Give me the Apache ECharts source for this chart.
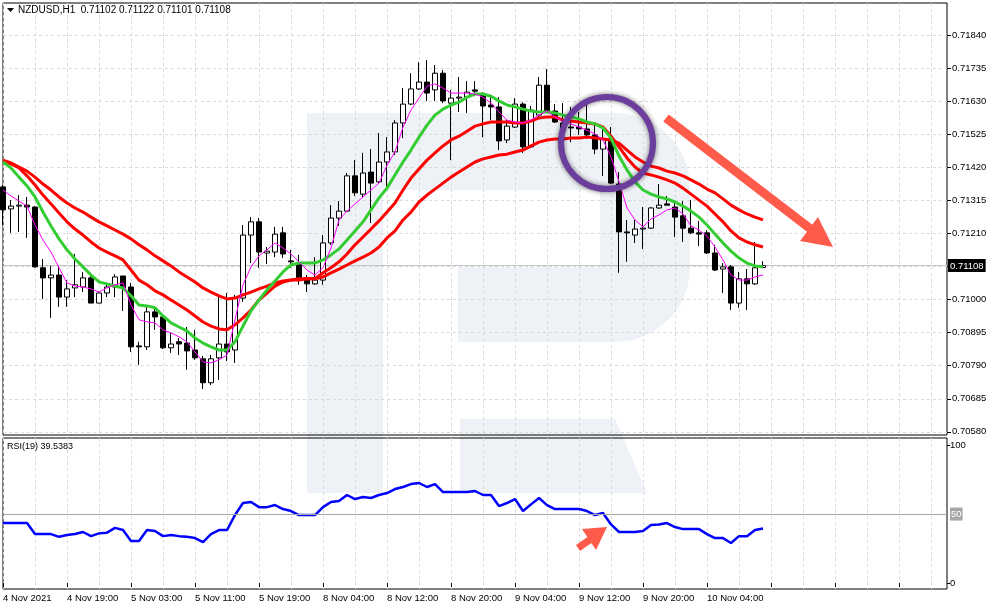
<!DOCTYPE html>
<html>
<head>
<meta charset="utf-8">
<script src="https://cdn.jsdelivr.net/npm/echarts@6/dist/echarts.min.js"></script>
<style>
  html, body { margin: 0; padding: 0; background: #fff; }
  #chart { width: 994px; height: 610px; }
</style>
</head>
<body>
<div id="chart"></div>
<script>
// NZDUSD H1, 4 Nov 2021 11:00 .. 10 Nov 2021 (96 bars)
var timeLabels = ['4 Nov 2021', '4 Nov 19:00', '5 Nov 03:00', '5 Nov 11:00', '5 Nov 19:00', '8 Nov 04:00',
  '8 Nov 12:00', '8 Nov 20:00', '9 Nov 04:00', '9 Nov 12:00', '9 Nov 20:00', '10 Nov 04:00'];

var priceTicks = [0.71840, 0.71735, 0.71630, 0.71525, 0.71420, 0.71315, 0.71210, 0.71105,
  0.71000, 0.70895, 0.70790, 0.70685, 0.70580];
var priceLabels = [0.71840, 0.71735, 0.71630, 0.71525, 0.71420, 0.71315, 0.71210,
  0.71000, 0.70895, 0.70790, 0.70685, 0.70580];
var rsiLabels = [0, 50, 100];
var lastPrice = 0.71108;

var open = [0.71358, 0.71288, 0.71297, 0.71300, 0.71294, 0.71101, 0.71069, 0.71078, 0.71008, 0.71037,
  0.71040, 0.71069, 0.70989, 0.71021, 0.71040, 0.71075, 0.71040, 0.70853, 0.70850, 0.70961,
  0.70945, 0.70847, 0.70866, 0.70862, 0.70840, 0.70812, 0.70736, 0.70815, 0.70859, 0.70840,
  0.71005, 0.71205, 0.71247, 0.71148, 0.71151, 0.71212, 0.71123, 0.71116, 0.71069, 0.71050,
  0.71062, 0.71180, 0.71259, 0.71281, 0.71393, 0.71335, 0.71405, 0.71374, 0.71437, 0.71469,
  0.71561, 0.71621, 0.71669, 0.71691, 0.71666, 0.71719, 0.71624, 0.71640, 0.71643, 0.71666,
  0.71650, 0.71618, 0.71612, 0.71507, 0.71548, 0.71621, 0.71485, 0.71586, 0.71681, 0.71599,
  0.71561, 0.71548, 0.71548, 0.71542, 0.71523, 0.71478, 0.71510, 0.71367, 0.71215, 0.71205,
  0.71224, 0.71227, 0.71291, 0.71304, 0.71294, 0.71266, 0.71227, 0.71212, 0.71212, 0.71148,
  0.71097, 0.71104, 0.70989, 0.71066, 0.71050, 0.71102];

var close = [0.71285, 0.71297, 0.71300, 0.71294, 0.71104, 0.71069, 0.71078, 0.71008, 0.71034, 0.71047,
  0.71069, 0.70989, 0.71021, 0.71040, 0.71072, 0.71037, 0.70850, 0.70850, 0.70961, 0.70945,
  0.70847, 0.70859, 0.70859, 0.70837, 0.70815, 0.70736, 0.70812, 0.70859, 0.70834, 0.71005,
  0.71205, 0.71247, 0.71151, 0.71154, 0.71208, 0.71145, 0.71120, 0.71069, 0.71050, 0.71062,
  0.71180, 0.71259, 0.71281, 0.71393, 0.71339, 0.71402, 0.71370, 0.71437, 0.71469, 0.71561,
  0.71621, 0.71669, 0.71691, 0.71656, 0.71719, 0.71631, 0.71640, 0.71643, 0.71659, 0.71662,
  0.71615, 0.71612, 0.71504, 0.71551, 0.71621, 0.71485, 0.71602, 0.71681, 0.71599, 0.71564,
  0.71545, 0.71545, 0.71542, 0.71523, 0.71478, 0.71510, 0.71370, 0.71215, 0.71212, 0.71224,
  0.71227, 0.71291, 0.71300, 0.71300, 0.71262, 0.71227, 0.71212, 0.71208, 0.71148, 0.71094,
  0.71104, 0.70989, 0.71066, 0.71050, 0.71101, 0.71108];

var high = [0.71364, 0.71316, 0.71332, 0.71326, 0.71297, 0.71129, 0.71107, 0.71107, 0.71062, 0.71145,
  0.71088, 0.71085, 0.71024, 0.71053, 0.71081, 0.71075, 0.71053, 0.70866, 0.70977, 0.70977,
  0.70948, 0.70894, 0.70878, 0.70913, 0.70904, 0.70821, 0.70824, 0.71015, 0.71021, 0.71015,
  0.71237, 0.71262, 0.71259, 0.71167, 0.71231, 0.71231, 0.71158, 0.71142, 0.71078, 0.71135,
  0.71205, 0.71300, 0.71313, 0.71402, 0.71443, 0.71466, 0.71478, 0.71529, 0.71516, 0.71570,
  0.71672, 0.71719, 0.71754, 0.71761, 0.71745, 0.71729, 0.71666, 0.71707, 0.71694, 0.71694,
  0.71659, 0.71650, 0.71643, 0.71570, 0.71640, 0.71627, 0.71615, 0.71707, 0.71732, 0.71621,
  0.71624, 0.71612, 0.71596, 0.71624, 0.71564, 0.71548, 0.71548, 0.71405, 0.71253, 0.71253,
  0.71294, 0.71294, 0.71367, 0.71329, 0.71307, 0.71313, 0.71316, 0.71250, 0.71221, 0.71174,
  0.71116, 0.71110, 0.71088, 0.71097, 0.71183, 0.71122];

var low = [0.71237, 0.71212, 0.71215, 0.71196, 0.71101, 0.71002, 0.70942, 0.70977, 0.70977, 0.71008,
  0.71024, 0.70989, 0.70989, 0.71008, 0.71008, 0.70964, 0.70834, 0.70793, 0.70840, 0.70904,
  0.70843, 0.70831, 0.70824, 0.70777, 0.70809, 0.70716, 0.70729, 0.70745, 0.70805, 0.70799,
  0.70993, 0.71116, 0.71101, 0.71113, 0.71135, 0.71132, 0.71101, 0.71047, 0.71024, 0.71047,
  0.71047, 0.71174, 0.71234, 0.71278, 0.71329, 0.71323, 0.71243, 0.71370, 0.71348, 0.71459,
  0.71513, 0.71618, 0.71666, 0.71631, 0.71631, 0.71624, 0.71443, 0.71596, 0.71593, 0.71646,
  0.71516, 0.71570, 0.71475, 0.71497, 0.71545, 0.71466, 0.71481, 0.71580, 0.71596, 0.71561,
  0.71500, 0.71500, 0.71523, 0.71510, 0.71462, 0.71393, 0.71367, 0.71085, 0.71120, 0.71180,
  0.71161, 0.71224, 0.71288, 0.71300, 0.71199, 0.71183, 0.71208, 0.71170, 0.71145, 0.71091,
  0.71021, 0.70967, 0.70974, 0.70967, 0.71047, 0.71101];

// moving averages
var maSlow = [0.71443, 0.71434, 0.71421, 0.71408, 0.71389, 0.71367, 0.71348, 0.71326, 0.71307, 0.71291,
  0.71278, 0.71262, 0.71247, 0.71234, 0.71221, 0.71208, 0.71193, 0.71174, 0.71158, 0.71139,
  0.71123, 0.71107, 0.71088, 0.71072, 0.71056, 0.71037, 0.71024, 0.71012, 0.71002, 0.71005,
  0.71015, 0.71024, 0.71034, 0.71043, 0.71053, 0.71059, 0.71062, 0.71066, 0.71066, 0.71066,
  0.71072, 0.71085, 0.71097, 0.71110, 0.71123, 0.71135, 0.71148, 0.71167, 0.71196, 0.71218,
  0.71253, 0.71278, 0.71310, 0.71332, 0.71351, 0.71370, 0.71389, 0.71405, 0.71421, 0.71437,
  0.71447, 0.71453, 0.71459, 0.71462, 0.71469, 0.71475, 0.71488, 0.71500, 0.71507, 0.71510,
  0.71510, 0.71513, 0.71513, 0.71516, 0.71513, 0.71510, 0.71507, 0.71497, 0.71475, 0.71453,
  0.71437, 0.71424, 0.71418, 0.71408, 0.71402, 0.71393, 0.71380, 0.71367, 0.71351, 0.71339,
  0.71320, 0.71300, 0.71285, 0.71272, 0.71262, 0.71253];

var maMid = [0.71437, 0.71431, 0.71418, 0.71393, 0.71364, 0.71332, 0.71304, 0.71275, 0.71247, 0.71224,
  0.71205, 0.71183, 0.71164, 0.71151, 0.71139, 0.71126, 0.71094, 0.71062, 0.71047, 0.71028,
  0.71015, 0.70999, 0.70983, 0.70967, 0.70948, 0.70929, 0.70916, 0.70907, 0.70904, 0.70920,
  0.70942, 0.70967, 0.70999, 0.71021, 0.71043, 0.71056, 0.71062, 0.71062, 0.71066, 0.71066,
  0.71085, 0.71101, 0.71120, 0.71145, 0.71174, 0.71199, 0.71224, 0.71250, 0.71278, 0.71307,
  0.71348, 0.71386, 0.71415, 0.71443, 0.71466, 0.71488, 0.71507, 0.71519, 0.71535, 0.71551,
  0.71558, 0.71564, 0.71564, 0.71564, 0.71561, 0.71561, 0.71567, 0.71577, 0.71580, 0.71580,
  0.71570, 0.71567, 0.71564, 0.71561, 0.71558, 0.71548, 0.71519, 0.71485, 0.71450, 0.71421,
  0.71402, 0.71396, 0.71389, 0.71380, 0.71370, 0.71354, 0.71335, 0.71316, 0.71297, 0.71272,
  0.71247, 0.71218, 0.71196, 0.71183, 0.71174, 0.71167];

var maFast = [0.71437, 0.71418, 0.71389, 0.71361, 0.71326, 0.71278, 0.71234, 0.71193, 0.71158, 0.71129,
  0.71104, 0.71078, 0.71056, 0.71050, 0.71043, 0.71037, 0.71012, 0.70983, 0.70980, 0.70974,
  0.70948, 0.70926, 0.70913, 0.70901, 0.70878, 0.70862, 0.70850, 0.70840, 0.70840, 0.70866,
  0.70916, 0.70964, 0.70999, 0.71031, 0.71059, 0.71088, 0.71110, 0.71116, 0.71116, 0.71116,
  0.71126, 0.71142, 0.71161, 0.71189, 0.71218, 0.71247, 0.71285, 0.71323, 0.71354, 0.71396,
  0.71437, 0.71475, 0.71516, 0.71554, 0.71586, 0.71605, 0.71618, 0.71627, 0.71643, 0.71653,
  0.71653, 0.71646, 0.71631, 0.71618, 0.71612, 0.71605, 0.71599, 0.71596, 0.71596, 0.71593,
  0.71586, 0.71580, 0.71574, 0.71564, 0.71558, 0.71545, 0.71513, 0.71456, 0.71412, 0.71374,
  0.71348, 0.71335, 0.71326, 0.71320, 0.71310, 0.71297, 0.71281, 0.71262, 0.71237, 0.71208,
  0.71180, 0.71154, 0.71132, 0.71116, 0.71107, 0.71104];

var maThin = [0.71348, 0.71329, 0.71313, 0.71297, 0.71237, 0.71189, 0.71151, 0.71101, 0.71053, 0.71043,
  0.71040, 0.71034, 0.71024, 0.71037, 0.71047, 0.71053, 0.70983, 0.70936, 0.70929, 0.70926,
  0.70904, 0.70894, 0.70882, 0.70866, 0.70834, 0.70802, 0.70799, 0.70809, 0.70824, 0.70936,
  0.71047, 0.71104, 0.71139, 0.71158, 0.71180, 0.71164, 0.71145, 0.71120, 0.71094, 0.71078,
  0.71101, 0.71164, 0.71253, 0.71281, 0.71304, 0.71326, 0.71348, 0.71370, 0.71427, 0.71469,
  0.71548, 0.71602, 0.71640, 0.71678, 0.71685, 0.71672, 0.71656, 0.71656, 0.71656, 0.71653,
  0.71643, 0.71624, 0.71596, 0.71570, 0.71564, 0.71561, 0.71570, 0.71586, 0.71599, 0.71580,
  0.71567, 0.71558, 0.71548, 0.71538, 0.71526, 0.71507, 0.71453, 0.71374, 0.71291, 0.71253,
  0.71231, 0.71256, 0.71269, 0.71285, 0.71291, 0.71272, 0.71234, 0.71221, 0.71202, 0.71167,
  0.71126, 0.71078, 0.71062, 0.71062, 0.71072, 0.71078];

var rsi = [43.5, 43.5, 43.5, 43.5, 35.5, 35.5, 35.5, 33.5, 34.8, 35.5,
  37, 34, 36, 36.5, 40, 38.4, 30.4, 30.4, 38.4, 37.7,
  34, 34.8, 34, 33.5, 32.6, 29.7, 35.5, 38.4, 38.4, 49.3,
  58, 58.7, 55, 55, 56.5, 53.6, 52.2, 49.3, 49.3, 49.3,
  55, 58.7, 59.4, 63.8, 60.9, 62.3, 61.6, 63.8, 65.2, 68.1,
  69.6, 71.7, 72.5, 69.6, 71.7, 65.9, 65.9, 65.9, 65.9, 66.7,
  63.8, 63.8, 55.8, 58, 60.9, 52.2, 57, 61.6, 56.5, 53.6,
  53.6, 53.6, 53.6, 52.2, 49.3, 50.7, 42.5, 37, 37, 37,
  37.7, 42, 42.5, 43.5, 40.6, 39.1, 39.1, 39.1, 35.5, 32.6,
  32.6, 29, 34, 34, 38.4, 39.54];

var slots = 119; // bars plus the empty space on the right
var cats = [];
for (var i = 0; i < slots; i++) cats.push(String(i));

var candles = open.map(function (o, i) {
  return [o, close[i], low[i], high[i]];
});

var font = 'Liberation Sans, Arial, sans-serif';
var gridLine = { color: '#d9d9d9', type: [3, 3], width: 1 };
var wm = '#eef1f6';
var arrowRed = '#ff5b4b';
var priceMin = 0.70570, priceMax = 0.71942;

var chart = echarts.init(document.getElementById('chart'));

function maSeries(name, data, color, width, z) {
  return {
    name: name, type: 'line', xAxisIndex: 0, yAxisIndex: 0, data: data,
    symbol: 'none', silent: true, z: z,
    lineStyle: { color: color, width: width }
  };
}

chart.setOption({
  animation: false,
  backgroundColor: '#fff',
  textStyle: { fontFamily: font },
  grid: [
    { left: 3, top: 3, width: 944, height: 432, show: true, borderColor: '#000', borderWidth: 1 },
    { left: 3, top: 438, width: 944, height: 151, show: true, borderColor: '#000', borderWidth: 1 }
  ],
  xAxis: [
    {
      type: 'category', gridIndex: 0, data: cats, boundaryGap: false,
      axisLine: { show: false }, axisTick: { show: false }, axisLabel: { show: false },
      splitLine: { show: true, interval: 3, lineStyle: gridLine }
    },
    {
      type: 'category', gridIndex: 1, data: cats, boundaryGap: false,
      axisLine: { show: false },
      axisTick: { show: true, interval: 7, length: 4, lineStyle: { color: '#000' } },
      axisLabel: {
        interval: 7, align: 'left', margin: 4, fontSize: 9.5, color: '#000', fontFamily: font,
        formatter: function (v, idx) { return timeLabels[idx / 8] || ''; }
      },
      splitLine: { show: true, interval: 3, lineStyle: gridLine }
    }
  ],
  yAxis: [
    {
      type: 'value', gridIndex: 0, position: 'right', min: priceMin, max: priceMax,
      axisLine: { show: false },
      axisTick: { show: true, length: 4, customValues: priceTicks, lineStyle: { color: '#000' } },
      axisLabel: {
        customValues: priceLabels, margin: 5, fontSize: 9.5, color: '#000', fontFamily: font,
        formatter: function (v) { return v.toFixed(5); }
      },
      splitLine: { show: true, lineStyle: gridLine }
    },
    {
      type: 'value', gridIndex: 1, position: 'right', min: -4.3, max: 105.1,
      axisLine: { show: false },
      axisTick: { show: true, length: 3, customValues: [0, 100], lineStyle: { color: '#000' } },
      axisLabel: {
        customValues: rsiLabels, margin: 3, fontSize: 9.5, color: '#000', fontFamily: font,
        formatter: function (v) { return v === 50 ? '{g|50}' : String(v); },
        rich: { g: { backgroundColor: '#a6a6a6', color: '#fff', padding: [2, 1, 1, 1], fontSize: 9.5 } }
      },
      splitLine: { show: false }
    },
    {
      // bid line and last price box, same scale as the price axis
      type: 'value', gridIndex: 0, position: 'right', min: priceMin, max: priceMax,
      axisLine: { show: false },
      axisTick: { show: false, customValues: [lastPrice] },
      axisLabel: {
        customValues: [lastPrice], margin: 1, fontFamily: font,
        formatter: function (v) { return '{b|' + v.toFixed(5) + '}'; },
        rich: { b: { backgroundColor: '#000', color: '#fff', padding: [2, 2, 1, 2], fontSize: 9.5, fontFamily: font } }
      },
      splitLine: { show: true, lineStyle: { color: '#c4c4c4', type: 'solid', width: 1 } }
    }
  ],
  series: [
    {
      name: 'NZDUSD', type: 'candlestick', xAxisIndex: 0, yAxisIndex: 0,
      data: candles, barWidth: 5, clip: true, z: 2, silent: true,
      itemStyle: { color: '#fff', color0: '#000', borderColor: '#000', borderColor0: '#000', borderWidth: 1 }
    },
    maSeries('MA slow', maSlow, '#ff0000', 3, 3),
    maSeries('MA mid', maMid, '#ff0000', 3, 3),
    maSeries('MA fast', maFast, '#33cc33', 3, 4),
    maSeries('MA thin', maThin, '#ff00ff', 1, 5),
    {
      name: 'RSI(19)', type: 'line', xAxisIndex: 1, yAxisIndex: 1, data: rsi,
      symbol: 'none', silent: true, z: 3,
      lineStyle: { color: '#0000ff', width: 2.5 },
      markLine: {
        silent: true, symbol: 'none', animation: false,
        data: [{ yAxis: 50 }],
        lineStyle: { color: '#a6a6a6', type: 'solid', width: 1 },
        label: { show: false }
      }
    }
  ],
  graphic: {
    elements: [
      // watermark
      { type: 'rect', z: -1, silent: true, shape: { x: 307, y: 113, width: 76, height: 380 }, style: { fill: wm } },
      { type: 'rect', z: -1, silent: true, shape: { x: 307, y: 113, width: 310, height: 77 }, style: { fill: wm } },
      { type: 'rect', z: -1, silent: true, shape: { x: 600, y: 113, width: 90, height: 229, r: [0, 75, 75, 0] }, style: { fill: wm } },
      { type: 'rect', z: -1, silent: true, shape: { x: 458, y: 267, width: 160, height: 75 }, style: { fill: wm } },
      { type: 'polygon', z: -1, silent: true, shape: { points: [[460, 419], [615, 419], [647, 493], [460, 493]] }, style: { fill: wm } },
      // header
      { type: 'polygon', z: 100, silent: true, shape: { points: [[7, 8], [14, 8], [10.5, 12]] }, style: { fill: '#000' } },
      { type: 'text', z: 100, silent: true, x: 18, y: 5,
        style: { text: 'NZDUSD,H1  0.71102 0.71122 0.71101 0.71108', font: '10px ' + font, fill: '#000' } },
      { type: 'text', z: 100, silent: true, x: 7, y: 442,
        style: { text: 'RSI(19) 39.5383', font: '9px ' + font, fill: '#000' } },
      // annotations
      { type: 'circle', z: 100, silent: true, shape: { cx: 607, cy: 143, r: 46 },
        style: { fill: 'none', stroke: '#6b3d9c', lineWidth: 6, shadowBlur: 5, shadowColor: 'rgba(0,0,0,0.55)' } },
      { type: 'line', z: 100, silent: true, shape: { x1: 666, y1: 118, x2: 812, y2: 230 },
        style: { stroke: arrowRed, lineWidth: 9 } },
      { type: 'polygon', z: 100, silent: true, shape: { points: [[833, 247], [800, 241], [818, 217]] },
        style: { fill: arrowRed } },
      { type: 'line', z: 100, silent: true, shape: { x1: 578, y1: 548, x2: 591, y2: 539 },
        style: { stroke: arrowRed, lineWidth: 7 } },
      { type: 'polygon', z: 100, silent: true, shape: { points: [[607, 527], [582, 529], [596, 550]] },
        style: { fill: arrowRed } }
    ]
  }
});
</script>
</body>
</html>
